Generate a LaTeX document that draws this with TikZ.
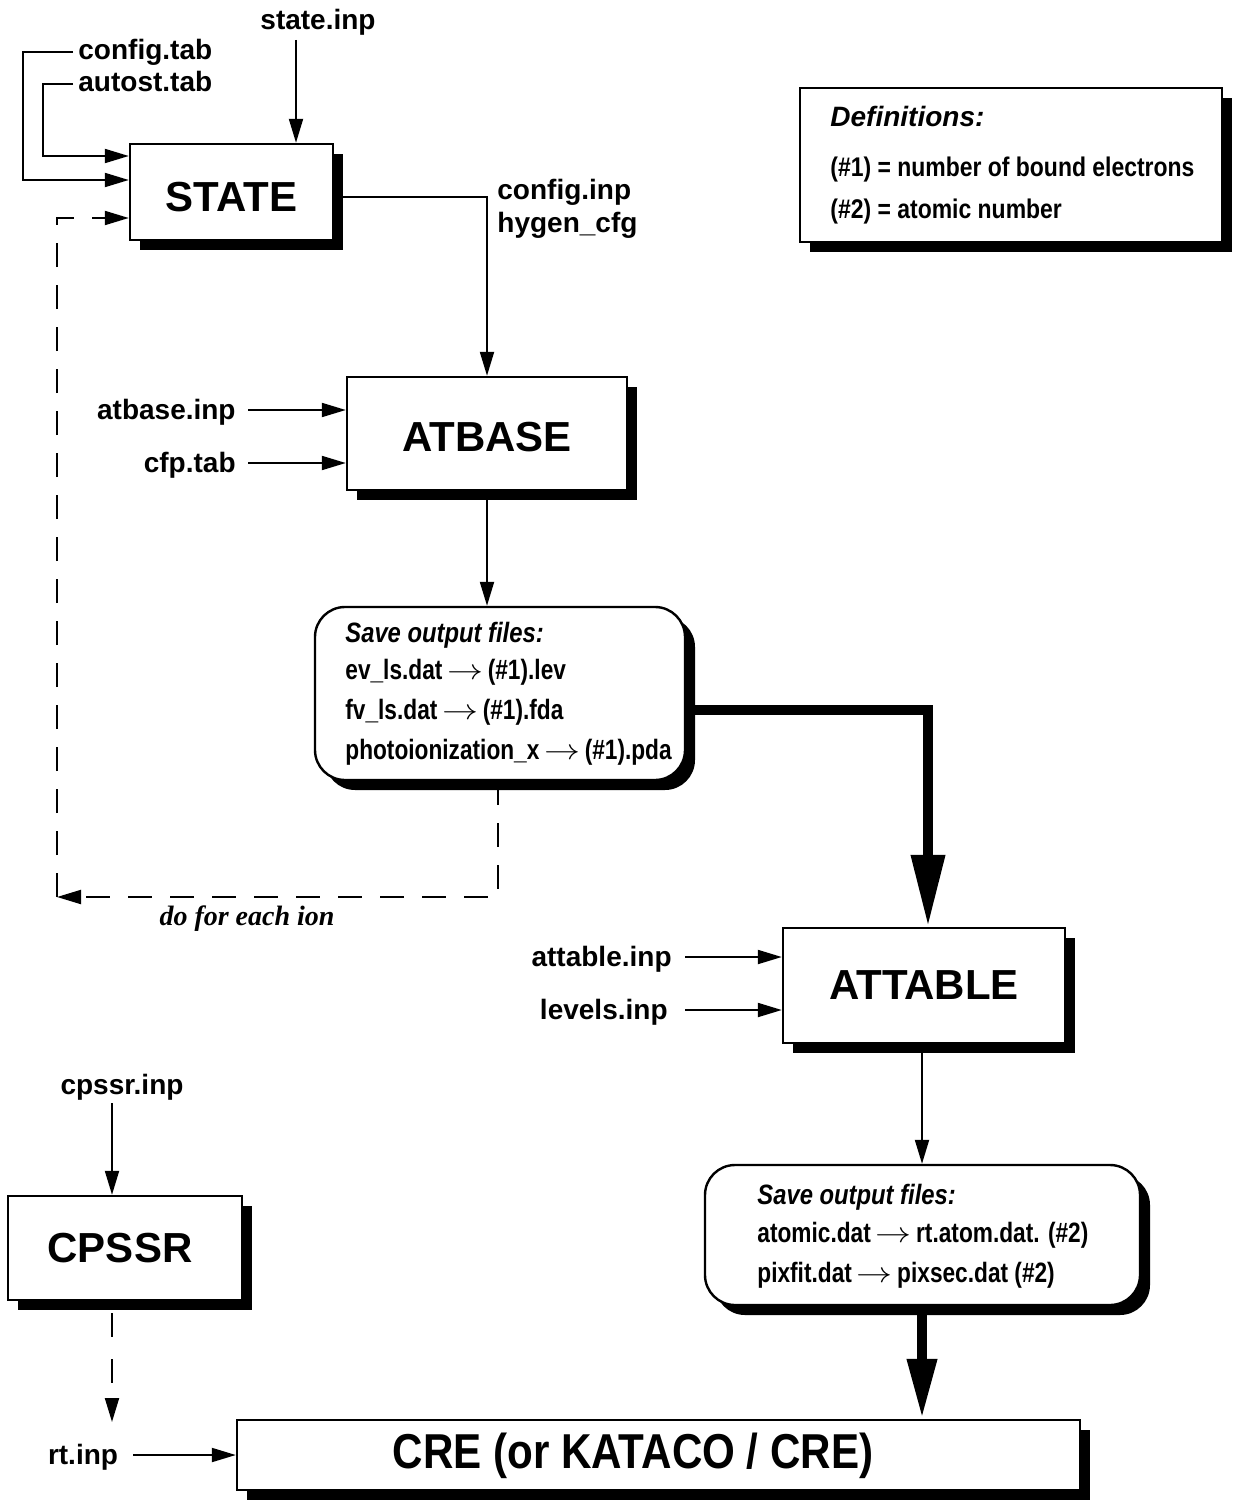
\documentclass[tikz,border=0pt]{standalone}
\usepackage{fontspec}
\setmainfont{Liberation Sans}
\newfontfamily\narrowfont[FakeStretch=0.81]{Liberation Sans}
\newfontfamily\defnarrow[FakeStretch=0.85]{Liberation Sans}
\newfontfamily\crefont[FakeStretch=0.86]{Liberation Sans}
\newfontfamily\timesfont{Liberation Serif}
\usetikzlibrary{arrows.meta,shadows}
\newcommand{\farrow}{\,\scalebox{1.25}[1]{$\rightarrow$}\,}
\begin{document}
\begin{tikzpicture}[x=0.5pt,y=-0.5pt,
  box/.style={draw, line width=1.2pt, fill=white, inner sep=0pt,
    general shadow={fill=black, shadow xshift=5pt, shadow yshift=-5pt}},
  title/.style={font=\fontsize{21}{25}\selectfont\bfseries},
  lbl/.style={font=\fontsize{14}{17}\selectfont\bfseries, inner sep=0pt},
  savetxt/.style={font=\narrowfont\fontsize{14}{17}\selectfont\bfseries, inner sep=0pt, anchor=base west},
  savehead/.style={font=\defnarrow\fontsize{14}{17}\selectfont\bfseries\itshape, inner sep=0pt, anchor=base west},
  deftxt/.style={font=\defnarrow\fontsize{13.5}{16}\selectfont\bfseries, inner sep=0pt, anchor=base west},
  tip/.style={-{Triangle[length=12pt,width=7pt]}},
  conn/.style={line width=1pt, tip},
  dashline/.style={line width=1pt, dash pattern=on 12pt off 9pt},
  bigarrow/.style={line width=5pt, -{Triangle[length=36pt,width=16pt]}},
  bigarrowb/.style={line width=5pt, -{Triangle[length=30pt,width=14pt]}}]
\useasboundingbox (0,0) rectangle (1235,1503);

% ---------- boxes ----------
\node[box, title, minimum width=101.5pt, minimum height=48pt, text height=20pt] (state) at (231.5,192) {STATE};
\node[box, title, minimum width=140pt, minimum height=56.5pt, text height=18pt] (atbase) at (487,433.5) {ATBASE};
\node[box, rounded corners=15pt, minimum width=185pt, minimum height=86.5pt] (save1) at (500,693.5) {};
\node[box, title, minimum width=141pt, minimum height=57.5pt] (attable) at (924,985.5) {ATTABLE};
\node[box, rounded corners=15pt, minimum width=217.5pt, minimum height=70pt] (save2) at (922.5,1235) {};
\node[box, minimum width=117pt, minimum height=52pt] (cpssr) at (125,1248) {};
\node[title, inner sep=0pt] (cpssrtext) at (120,1248) {CPSSR};
\node[box, minimum width=421.5pt, minimum height=35pt] (cre) at (658.5,1455) {};
\node[font=\crefont\fontsize{24.5}{28}\selectfont\bfseries, inner sep=0pt] (cretext) at (633,1456) {CRE (or KATACO / CRE)};
\node[box, minimum width=211pt, minimum height=77pt] (defs) at (1011,165) {};

% ---------- definitions text ----------
\node[font=\fontsize{14}{17}\selectfont\bfseries\itshape, inner sep=0pt, anchor=base west] (defh) at (830,127) {Definitions:};
\node[deftxt] (def1) at (830,177) {(\#1) = number of bound electrons};
\node[deftxt] (def2) at (830,219) {(\#2) = atomic number};

% ---------- save box texts ----------
\node[savehead] (s1h) at (345,642) {Save output files:};
\node[savetxt] (s1a) at (345,679) {ev\_ls.dat\farrow(\#1).lev};
\node[savetxt] (s1b) at (345,719) {fv\_ls.dat\farrow(\#1).fda};
\node[savetxt] (s1c) at (345,759) {photoionization\_x\farrow(\#1).pda};
\node[savehead] (s2h) at (757,1204) {Save output files:};
\node[savetxt] (s2a) at (757,1242) {atomic.dat\farrow rt.atom.dat. (\#2)};
\node[savetxt] (s2b) at (757,1282) {pixfit.dat\farrow pixsec.dat (\#2)};

% ---------- labels ----------
\node[lbl, anchor=base] (stateinp) at (318,30) {state.inp};
\node[lbl, anchor=base west] (cfgtab) at (78,60) {config.tab};
\node[lbl, anchor=base west] (autotab) at (78,92) {autost.tab};
\node[lbl, anchor=base west] (cfginp) at (497,199) {config.inp};
\node[lbl, anchor=base west] (hygen) at (497,233) {hygen\_cfg};
\node[lbl, anchor=base east] (atbinp) at (236,419) {atbase.inp};
\node[lbl, anchor=base east] (cfptab) at (236,472) {cfp.tab};
\node[lbl, anchor=base east] (attinp) at (672,966) {attable.inp};
\node[lbl, anchor=base east] (levinp) at (668,1019) {levels.inp};
\node[lbl, anchor=base] (cpsinp) at (122,1094) {cpssr.inp};
\node[lbl, anchor=base] (rtinp) at (83,1464) {rt.inp};
\node[font=\timesfont\fontsize{14}{17}\selectfont\bfseries\itshape, inner sep=0pt, anchor=base] (doeach) at (247,925) {do for each ion};

% ---------- coordinates ----------
\coordinate (sinA) at (296,40);
\coordinate (cfgA) at (73,52);
\coordinate (autA) at (73,84);
\coordinate (atbA) at (248,410);
\coordinate (cfpA) at (248,463);
\coordinate (attA) at (685,957);
\coordinate (levA) at (685,1010);
\coordinate (cpsA) at (112,1103);
\coordinate (rtA) at (133,1455);
\coordinate (loopBR) at (498,897);
\coordinate (loopBL) at (57,897);
\coordinate (loopTL) at (57,218);
\coordinate (cpsD) at (112,1313);
\coordinate (rtTop) at (112,1422);

% ---------- connectors ----------
\draw[conn] (sinA) -- (state.north -| sinA);
\draw[conn] (cfgA) -| (23,180) -- (state.west |- 0,180);
\draw[conn] (autA) -| (43,156) -- (state.west |- 0,156);
\draw[conn] (state.east |- 0,197) -| (atbase.north -| 487,0);
\draw[conn] (atbA) -- (atbase.west |- atbA);
\draw[conn] (cfpA) -- (atbase.west |- cfpA);
\draw[conn] (atbase.south -| 487,0) -- (save1.north -| 487,0);
\draw[dashline, tip] (save1.south -| loopBR) -- (loopBR) -- (loopBL);
\draw[dashline, tip] (loopBL) -- (loopTL) -- (state.west |- loopTL);
\draw[bigarrow] (save1.east |- 0,710) -- (928,710) -- (attable.north -| 928,0);
\draw[conn] (attA) -- (attable.west |- attA);
\draw[conn] (levA) -- (attable.west |- levA);
\draw[conn] (attable.south -| 922,0) -- (save2.north -| 922,0);
\draw[bigarrowb] (save2.south -| 922,0) -- (cre.north -| 922,0);
\draw[conn] (cpsA) -- (cpssr.north -| cpsA);
\draw[line width=1pt, dash pattern=on 12pt off 11pt, tip] (cpsD) -- (rtTop);
\draw[conn] (rtA) -- (cre.west |- rtA);
\end{tikzpicture}
\end{document}
